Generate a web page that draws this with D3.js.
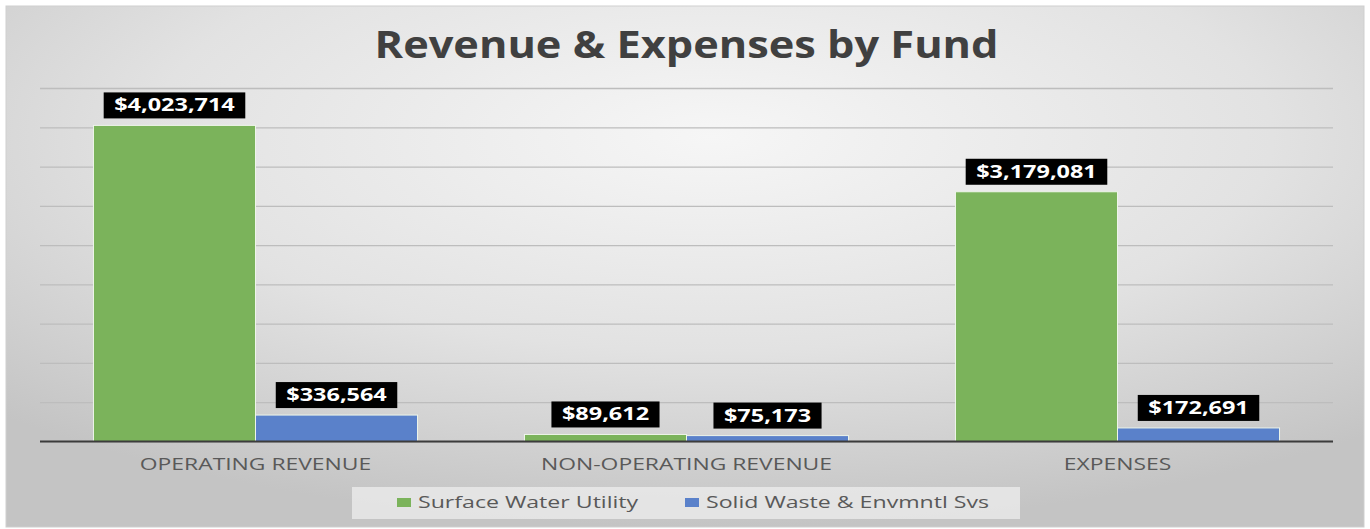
<!DOCTYPE html>
<html>
<head>
<meta charset="utf-8">
<script src="https://cdn.jsdelivr.net/npm/d3@7"></script>
<style>
  body { margin: 0; background: #fff; }
  svg { display: block; font-family: "Open Sans", sans-serif; }
  .grid line { stroke: #bdbdbd; stroke-width: 1.3; }
  .grid path { stroke-width: 0; }
  .cat { fill: #595959; font-size: 16px; }
  .lbl { fill: #fff; font-size: 17px; font-weight: 700; }
  .leg { fill: #595959; font-size: 17px; }
</style>
</head>
<body>
<svg id="chart" width="1370" height="529"></svg>
<script>
// chart data
var categories = ["OPERATING REVENUE", "NON-OPERATING REVENUE", "EXPENSES"];
var seriesNames = ["Surface Water Utility", "Solid Waste & Envmntl Svs"];
var surfaceWater = [4023714, 89612, 3179081];
var solidWaste = [336564, 75173, 172691];
var colors = ["#7bb35b", "#5a81ca"];

var WIDTH = 1370, HEIGHT = 529,
    MARGINS = { top: 88, right: 37, bottom: 87.5, left: 40 };

// the source picture is stretched sideways, so text gets a horizontal scale
var STRETCH = { title: 1.14, cat: 1.43, lbl: 1.38, leg: 1.36 };

var svg = d3.select("#chart");

function stretchedText(parent, x, yPos, sx) {
    return parent.append("text")
        .attr("transform", "translate(" + x + "," + yPos + ") scale(" + sx + ",1)");
}

// background gradient
var defs = svg.append("defs");
var grad = defs.append("radialGradient")
    .attr("id", "bg")
    .attr("cx", "52%").attr("cy", "25%").attr("r", "75%");
grad.append("stop").attr("offset", "0%").attr("stop-color", "#f6f6f6");
grad.append("stop").attr("offset", "55%").attr("stop-color", "#e2e2e2");
grad.append("stop").attr("offset", "100%").attr("stop-color", "#c4c4c4");

svg.append("rect")
    .attr("x", 6).attr("y", 6)
    .attr("width", WIDTH - 12).attr("height", HEIGHT - 8)
    .attr("fill", "url(#bg)")
    .attr("stroke", "#cfcfcf");

var x0 = d3.scaleBand()
    .domain(categories)
    .range([MARGINS.left, WIDTH - MARGINS.right]);

var x1 = d3.scaleBand()
    .domain(seriesNames)
    .range([0, x0.bandwidth()])
    .paddingOuter(0.33);

var y = d3.scaleLinear()
    .domain([0, 4500000])
    .range([HEIGHT - MARGINS.bottom, MARGINS.top]);

// gridlines
svg.append("g")
    .attr("class", "grid")
    .attr("transform", "translate(" + MARGINS.left + ",0)")
    .call(d3.axisLeft(y)
        .ticks(9)
        .tickSize(-(WIDTH - MARGINS.left - MARGINS.right))
        .tickFormat(""));

// title
stretchedText(svg, (MARGINS.left + WIDTH - MARGINS.right) / 2, 58, STRETCH.title)
    .attr("text-anchor", "middle")
    .style("font-size", "38px")
    .style("font-weight", 700)
    .style("fill", "#404040")
    .text("Revenue & Expenses by Fund");

var rows = categories.map(function(c, i) {
    return { cat: c, values: [
        { name: seriesNames[0], value: surfaceWater[i], color: colors[0] },
        { name: seriesNames[1], value: solidWaste[i], color: colors[1] }
    ] };
});

var groups = svg.selectAll(".group")
    .data(rows)
    .enter().append("g")
    .attr("class", "group")
    .attr("transform", function(d) { return "translate(" + x0(d.cat) + ",0)"; });

groups.selectAll("rect.bar")
    .data(function(d) { return d.values; })
    .enter().append("rect")
    .attr("class", "bar")
    .attr("x", function(d) { return x1(d.name); })
    .attr("width", x1.bandwidth())
    .attr("y", function(d) { return y(d.value); })
    .attr("height", function(d) { return y(0) - y(d.value); })
    .attr("fill", function(d) { return d.color; })
    .attr("stroke", "#eef5ea")
    .attr("stroke-width", 1);

// baseline
svg.append("line")
    .attr("x1", MARGINS.left).attr("x2", WIDTH - MARGINS.right)
    .attr("y1", y(0)).attr("y2", y(0))
    .attr("stroke", "#3c3c3c")
    .attr("stroke-width", 2);

// value labels
var fmt = d3.format("$,");
groups.selectAll("g.lab")
    .data(function(d) { return d.values; })
    .enter().append("g")
    .attr("class", "lab")
    .each(function(d) {
        var g = d3.select(this);
        var cx = x1(d.name) + x1.bandwidth() / 2;
        var bottom = y(d.value) - 7;
        var box = g.append("rect").attr("fill", "#000");
        var t = stretchedText(g, cx, bottom - 7, STRETCH.lbl)
            .attr("class", "lbl")
            .attr("text-anchor", "middle")
            .text(fmt(d.value));
        var w = t.node().getComputedTextLength() * STRETCH.lbl + 21;
        box.attr("x", cx - w / 2).attr("width", w)
            .attr("y", bottom - 26).attr("height", 26);
    });

// category labels
categories.forEach(function(c) {
    stretchedText(svg, x0(c) + x0.bandwidth() / 2, 470, STRETCH.cat)
        .attr("class", "cat")
        .attr("text-anchor", "middle")
        .text(c);
});

// legend
var legend = svg.append("g");
legend.append("rect")
    .attr("x", 352).attr("y", 487)
    .attr("width", 668).attr("height", 32)
    .attr("fill", "#ebebeb")
    .attr("opacity", 0.8);

var legX = [397, 685];
seriesNames.forEach(function(s, i) {
    legend.append("rect")
        .attr("x", legX[i]).attr("y", 498)
        .attr("width", 14).attr("height", 9)
        .attr("fill", colors[i]);
    stretchedText(legend, legX[i] + 21, 508, STRETCH.leg)
        .attr("class", "leg")
        .text(s);
});
</script>
</body>
</html>
